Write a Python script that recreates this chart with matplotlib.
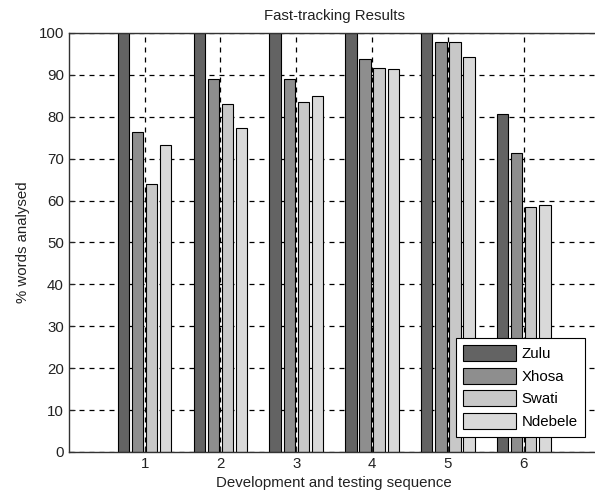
import matplotlib
matplotlib.use("Agg")
import matplotlib.pyplot as plt
import numpy as np

plt.rcParams['font.family'] = ['Liberation Sans', 'DejaVu Sans']

sequence = [1, 2, 3, 4, 5, 6]
languages = ["Zulu", "Xhosa", "Swati", "Ndebele"]
zulu = [100, 100, 100, 100, 100, 80.7]
xhosa = [76.3, 89.0, 89.0, 93.7, 97.8, 71.4]
swati = [64.0, 83.0, 83.6, 91.6, 97.8, 58.5]
ndebele = [73.2, 77.3, 85.0, 91.3, 94.3, 59.0]
series = [zulu, xhosa, swati, ndebele]
colors = ["#636363", "#8e8e8e", "#c8c8c8", "#d9d9d9"]

fig = plt.figure(figsize=(5.95, 4.95), dpi=100)
ax = fig.add_axes([0.1156, 0.0869, 0.892, 0.8465])

x = np.array(sequence, dtype=float)
step = 0.186
width = 0.15
for i, (vals, name, c) in enumerate(zip(series, languages, colors)):
    ax.bar(x + (i - 1.5) * step, vals, width=width, color=c, edgecolor="black",
           linewidth=0.8, label=name, zorder=2)

ax.set_xlim(0, 7)
ax.set_ylim(0, 100)
ax.set_xticks(sequence)
ax.set_yticks(np.arange(0, 101, 10))
ax.grid(True, linestyle=(0, (4, 4)), color="black", linewidth=0.9, zorder=1)
ax.set_axisbelow(True)
ax.tick_params(direction="in", length=4, labelsize=10.8, colors="#222222")
for s in ax.spines.values():
    s.set_color("#333333")
    s.set_linewidth(1.0)

ax.set_title("Fast-tracking Results", fontsize=10.8, pad=9, color="#222222")
ax.set_xlabel("Development and testing sequence", fontsize=10.8, labelpad=4, color="#222222")
ax.set_ylabel("% words analysed", fontsize=10.8, labelpad=6, color="#222222")

leg = ax.legend(loc="lower right", bbox_to_anchor=(0.9735, 0.0365), borderaxespad=0,
                fancybox=False, framealpha=1, edgecolor="black", fontsize=10.8,
                handlelength=3.5, handleheight=1.25, handletextpad=0.4,
                labelspacing=0.45, borderpad=0.5)
leg.get_frame().set_linewidth(0.8)

fig.savefig("out.png", dpi=100)
